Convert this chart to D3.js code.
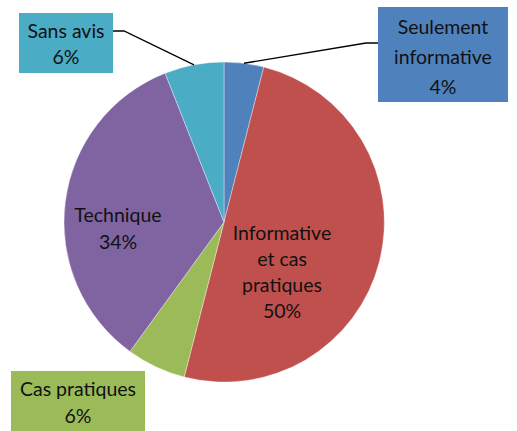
<!DOCTYPE html>
<html><head><meta charset="utf-8">
<script src="https://cdn.jsdelivr.net/npm/d3@7"></script>
<style>body{margin:0;background:#fff}svg{display:block}</style>
</head><body>
<script>
const categories = ["Seulement informative", "Informative et cas pratiques", "Cas pratiques", "Technique", "Sans avis"];
const values = [4, 50, 6, 34, 6];
const labelLines = [["Seulement","informative","4%"],["Informative","et cas","pratiques","50%"],["Cas pratiques","6%"],["Technique","34%"],["Sans avis","6%"]];
const colors = ["#4F81BD", "#C0504D", "#9BBB59", "#8064A2", "#4BACC6"];

const W = 517, H = 431, cx = 224, cy = 222, R = 160;
const svg = d3.select("body").append("svg").attr("width", W).attr("height", H);
const font = "Lato, 'Noto Sans', sans-serif";

const data = categories.map((c, i) => ({c, v: values[i], i}));
const pie = d3.pie().value(d => d.v).sort(null);
const arcs = pie(data);
const arc = d3.arc().innerRadius(0).outerRadius(R);
const g = svg.append("g").attr("transform", `translate(${cx},${cy})`);
g.selectAll("path").data(arcs).join("path")
  .attr("d", arc).attr("fill", d => colors[d.data.i])
  .attr("stroke", "#fff").attr("stroke-width", 0.6).attr("stroke-opacity", 0.6);

const layout = [
  {box:[378,7,130,95], x:443, y:34, dy:30, leader:[[378,43],[366,43]]},
  {box:null, x:282, y:240, dy:26},
  {box:[11,371,134,60], x:78, y:396, dy:27},
  {box:null, x:118, y:222, dy:27},
  {box:[19,13,94,60], x:66, y:38, dy:26, leader:[[113,31],[124,31]]}
];

layout.forEach((L, i) => {
  const a = arcs[i];
  if (L.leader) {
    const mid = (a.startAngle + a.endAngle) / 2;
    const px = cx + R * Math.sin(mid), py = cy - R * Math.cos(mid);
    const pts = L.leader.concat([[px, py]]);
    svg.append("path").attr("d", d3.line()(pts)).attr("fill", "none")
      .attr("stroke", "#000").attr("stroke-width", 1.3);
  }
  if (L.box) {
    svg.append("rect").attr("x", L.box[0]).attr("y", L.box[1])
      .attr("width", L.box[2]).attr("height", L.box[3]).attr("fill", colors[i]);
  }
  const t = svg.append("text").attr("text-anchor", "middle")
    .attr("font-family", font).attr("font-size", 19.5).attr("fill", "#111");
  labelLines[i].forEach((s, k) => {
    t.append("tspan").attr("x", L.x).attr("y", L.y + k * L.dy).text(s);
  });
});
</script>
</body></html>
